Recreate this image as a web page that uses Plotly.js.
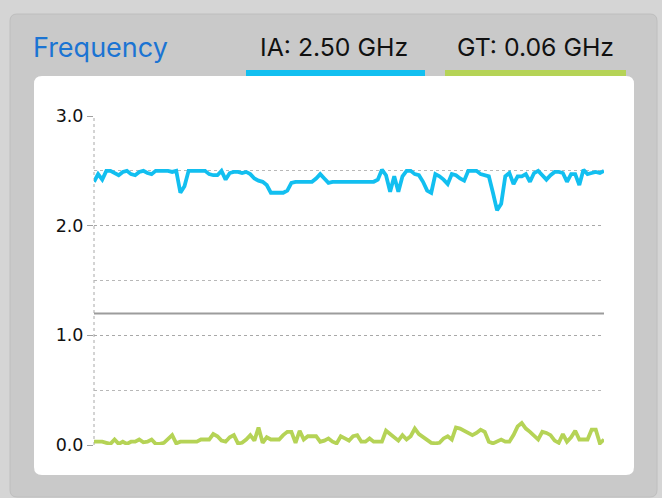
<!DOCTYPE html>
<html>
<head>
<meta charset="utf-8">
<script src="https://cdn.plot.ly/plotly-3.0.1.min.js"></script>
<style>
html,body{margin:0;padding:0;background:#d5d5d5;}
#chart{width:662px;height:498px;}
</style>
</head>
<body>
<div id="chart"></div>
<script>
// ---- data ----
const seriesNames = ["IA", "GT"];
const seriesLabels = ["IA: 2.50 GHz", "GT: 0.06 GHz"];
const panelTitle = "Frequency";
const iaValues = [
  2.40,2.47,2.42,2.50,2.50,2.48,2.46,2.49,2.50,2.47,
  2.46,2.49,2.50,2.48,2.47,2.50,2.50,2.50,2.50,2.49,
  2.50,2.30,2.36,2.50,2.50,2.50,2.50,2.50,2.47,2.46,
  2.46,2.50,2.42,2.48,2.49,2.49,2.48,2.49,2.47,2.43,
  2.41,2.40,2.37,2.30,2.30,2.30,2.30,2.32,2.39,2.40,
  2.40,2.40,2.40,2.40,2.43,2.47,2.43,2.39,2.40,2.40,
  2.40,2.40,2.40,2.40,2.40,2.40,2.40,2.40,2.40,2.42,
  2.51,2.46,2.31,2.45,2.31,2.45,2.50,2.50,2.47,2.46,
  2.40,2.32,2.30,2.47,2.45,2.42,2.38,2.47,2.46,2.43,
  2.41,2.50,2.50,2.50,2.47,2.46,2.45,2.30,2.14,2.20,
  2.45,2.48,2.38,2.45,2.45,2.47,2.40,2.48,2.50,2.46,
  2.42,2.46,2.49,2.49,2.48,2.40,2.47,2.47,2.37,2.51,
  2.47,2.48,2.49,2.48,2.50
];
const gtValues = [
  0.03,0.03,0.03,0.02,0.01,0.05,0.01,0.03,0.01,0.03,
  0.03,0.05,0.025,0.03,0.05,0.01,0.01,0.02,0.06,0.09,
  0.015,0.03,0.03,0.03,0.03,0.03,0.05,0.05,0.05,0.10,
  0.08,0.04,0.03,0.07,0.09,0.015,0.02,0.05,0.09,0.04,
  0.16,0.02,0.07,0.05,0.05,0.05,0.09,0.12,0.12,0.02,
  0.13,0.05,0.08,0.08,0.08,0.03,0.04,0.06,0.03,0.015,
  0.08,0.06,0.04,0.08,0.09,0.03,0.03,0.06,0.03,0.03,
  0.03,0.13,0.10,0.07,0.04,0.09,0.05,0.08,0.15,0.10,
  0.07,0.04,0.02,0.015,0.02,0.06,0.08,0.05,0.16,0.15,
  0.13,0.11,0.09,0.11,0.14,0.12,0.03,0.015,0.03,0.05,
  0.03,0.03,0.09,0.17,0.20,0.15,0.12,0.08,0.05,0.12,
  0.11,0.09,0.04,0.02,0.10,0.03,0.07,0.13,0.05,0.05,
  0.05,0.14,0.14,0.015,0.05
];
const threshold = 1.2;
const yTickVals = [0, 1, 2, 3];
const yTickText = ["0.0", "1.0", "2.0", "3.0"];

// ---- layout geometry (pixels) ----
const W = 662, H = 498;
const PL = 94, PR = 604, PT = 116, PB = 445;
const px = x => (x - PL) / (PR - PL);
const py = y => (PB - y) / (PB - PT);

function roundRect(x0, y0, x1, y1, r) {
  const X = px, Y = py;
  return `M ${X(x0 + r)} ${Y(y0)} L ${X(x1 - r)} ${Y(y0)} Q ${X(x1)} ${Y(y0)} ${X(x1)} ${Y(y0 + r)} ` +
         `L ${X(x1)} ${Y(y1 - r)} Q ${X(x1)} ${Y(y1)} ${X(x1 - r)} ${Y(y1)} ` +
         `L ${X(x0 + r)} ${Y(y1)} Q ${X(x0)} ${Y(y1)} ${X(x0)} ${Y(y1 - r)} ` +
         `L ${X(x0)} ${Y(y0 + r)} Q ${X(x0)} ${Y(y0)} ${X(x0 + r)} ${Y(y0)} Z`;
}

const xIdx = iaValues.map((_, i) => i);

const traces = [
  {x: xIdx, y: gtValues, name: seriesNames[1], type: "scatter", mode: "lines",
   line: {color: "#b5d356", width: 3.8}, hoverinfo: "none"},
  {x: xIdx, y: iaValues, name: seriesNames[0], type: "scatter", mode: "lines",
   line: {color: "#12bff0", width: 3.8}, hoverinfo: "none"}
];

const headerFont = {family: "Inter, Liberation Sans, Arial, sans-serif", size: 24.8, color: "#111"};

const layout = {
  width: W, height: H,
  margin: {l: PL, r: W - PR, t: PT, b: H - PB, pad: 0},
  paper_bgcolor: "#d5d5d5",
  plot_bgcolor: "rgba(0,0,0,0)",
  showlegend: false,
  xaxis: {
    range: [0, xIdx.length - 1],
    showticklabels: false, ticks: "", showgrid: false,
    zeroline: false, showline: false, fixedrange: true
  },
  yaxis: {
    range: [0, 3],
    tickvals: yTickVals, ticktext: yTickText,
    ticks: "outside", ticklen: 6, tickcolor: "#a0a0a0", tickwidth: 1,
    tickfont: {family: "DejaVu Sans, sans-serif", size: 17.5, color: "#111"},
    showgrid: true, gridcolor: "#a8a8a8", griddash: "3px,3px", gridwidth: 1,
    minor: {dtick: 0.5, showgrid: true, gridcolor: "#b8b8b8", griddash: "3px,3px", gridwidth: 1, ticks: ""},
    zeroline: false, showline: false, fixedrange: true
  },
  shapes: [
    {type: "path", xref: "paper", yref: "paper", layer: "below",
     path: roundRect(10, 14, 657, 497, 7), fillcolor: "#c9c9c9", line: {color: "#bebebe", width: 1}},
    {type: "path", xref: "paper", yref: "paper", layer: "below",
     path: roundRect(34, 76, 634, 475, 8), fillcolor: "#ffffff", line: {width: 0}},
    {type: "rect", xref: "paper", yref: "paper", layer: "below",
     x0: px(246), x1: px(425), y0: py(76), y1: py(70), fillcolor: "#12bff0", line: {width: 0}},
    {type: "rect", xref: "paper", yref: "paper", layer: "below",
     x0: px(445), x1: px(626), y0: py(76), y1: py(70), fillcolor: "#b5d356", line: {width: 0}},
    {type: "line", xref: "paper", yref: "paper", layer: "below",
     x0: 0, x1: 0, y0: 0, y1: 1, line: {color: "#a8a8a8", width: 1, dash: "3px,3px"}},
    {type: "line", xref: "paper", yref: "y", layer: "below",
     x0: 0, x1: 1, y0: threshold, y1: threshold, line: {color: "#9c9c9c", width: 2}}
  ],
  annotations: [
    {xref: "paper", yref: "paper", x: px(31), y: py(47), xanchor: "left", yanchor: "middle",
     text: panelTitle, showarrow: false,
     font: {family: "Inter, Liberation Sans, Arial, sans-serif", size: 27, color: "#1b74d3"}},
    {xref: "paper", yref: "paper", x: px(334), y: py(47), xanchor: "center", yanchor: "middle",
     text: seriesLabels[0], showarrow: false, font: headerFont},
    {xref: "paper", yref: "paper", x: px(535.5), y: py(47), xanchor: "center", yanchor: "middle",
     text: seriesLabels[1], showarrow: false, font: headerFont}
  ]
};

Plotly.newPlot("chart", traces, layout, {staticPlot: true, displayModeBar: false});
</script>
</body>
</html>
